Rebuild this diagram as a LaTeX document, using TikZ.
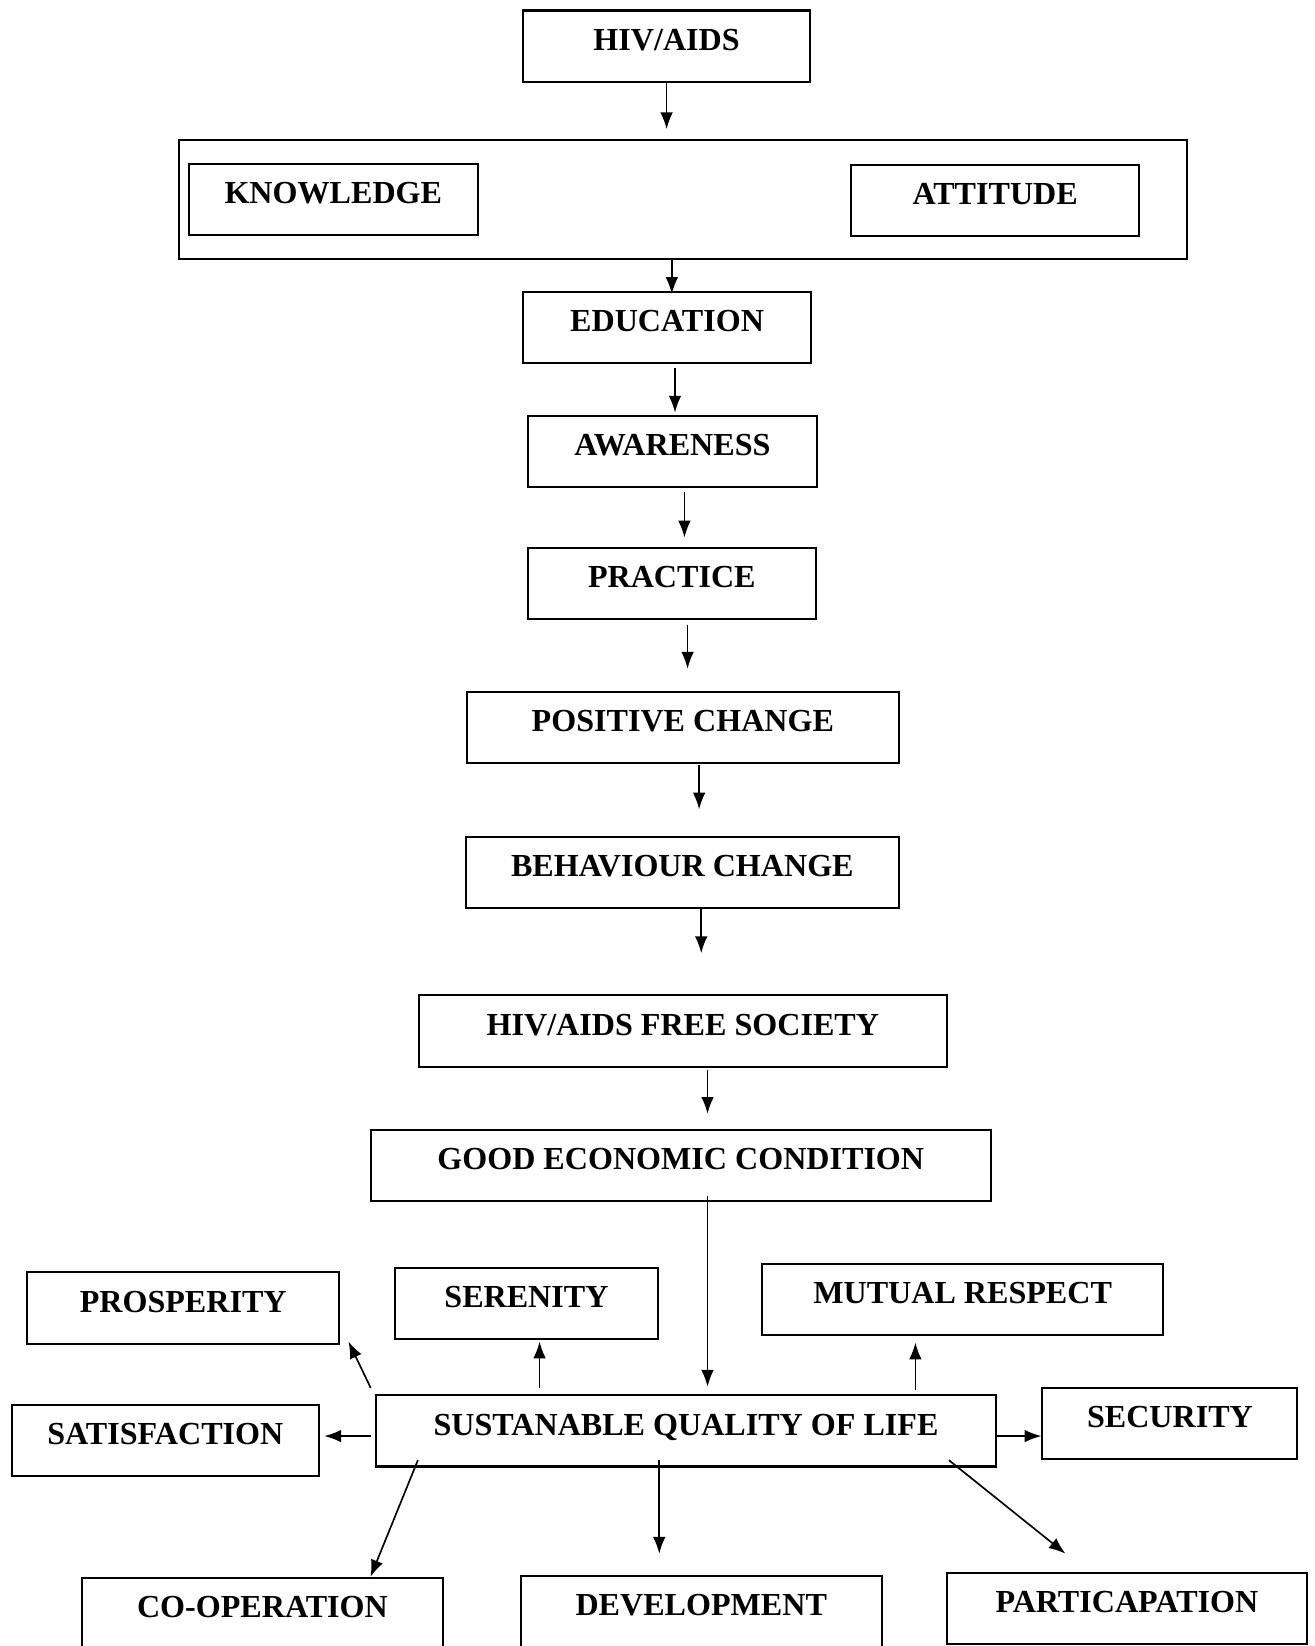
\documentclass[tikz,border=0pt]{standalone}
\usepackage{fontspec}
\setmainfont{Liberation Serif}
\usetikzlibrary{arrows.meta}

\begin{document}
\begin{tikzpicture}[x=0.02cm, y=-0.02cm,
		box/.style = {draw, line width=1.1pt, inner xsep=0pt, inner ysep=0pt, text height=0.76cm, text depth=0.6cm, font=\bfseries\fontsize{17.4}{20}\selectfont},
		arr/.style = {line width=0.9pt, -{Latex[length=3.2mm, width=2.4mm]}}]
		\useasboundingbox (0,0) rectangle (1252,1568);
		% main chain
		\node[box, minimum width=5.48cm] (hiv) at (635,44) {HIV/AIDS};
		\node[box, minimum width=19.22cm, minimum height=2.28cm] (core) at (650.5,190) {};
		\node[box, minimum width=5.5cm] (know) at (317.5,190) {KNOWLEDGE};
		\node[box, minimum width=5.48cm] (att) at (948,191) {ATTITUDE};
		\node[box, minimum width=5.5cm] (edu) at (635.5,312) {EDUCATION};
		\node[box, minimum width=5.5cm] (aware) at (640.5,430) {AWARENESS};
		\node[box, minimum width=5.48cm] (prac) at (640,556) {PRACTICE};
		\node[box, minimum width=8.22cm] (pos) at (650.5,693) {POSITIVE CHANGE};
		\node[box, minimum width=8.24cm] (beh) at (650,831) {BEHAVIOUR CHANGE};
		\node[box, minimum width=10.06cm] (free) at (650.5,982) {HIV/AIDS FREE SOCIETY};
		\node[box, minimum width=11.82cm] (econ) at (648.5,1110) {GOOD ECONOMIC CONDITION};
		% outcomes
		\node[box, minimum width=11.82cm] (sql) at (653.5,1363) {SUSTANABLE QUALITY OF LIFE};
		\node[box, minimum width=5.94cm] (pros) at (174.5,1246) {PROSPERITY};
		\node[box, minimum width=5.02cm] (ser) at (501.5,1242) {SERENITY};
		\node[box, minimum width=7.64cm] (mut) at (917,1238) {MUTUAL RESPECT};
		\node[box, minimum width=5.86cm] (sat) at (157.5,1372) {SATISFACTION};
		\node[box, minimum width=4.86cm] (sec) at (1114.5,1356) {SECURITY};
		\node[box, minimum width=6.88cm] (coop) at (250,1537) {CO-OPERATION};
		\node[box, minimum width=6.88cm] (dev) at (668,1535) {DEVELOPMENT};
		\node[box, minimum width=6.86cm] (part) at (1073.5,1532) {PARTICAPATION};
		% arrows down the chain
		\draw[arr, shorten >=0.18cm] (hiv.south -| 635,0) -- (core.north -| 635,0);
		\draw[arr, shorten >=-0.06cm] (core.south -| 640,0) -- (edu.north -| 640,0);
		\draw[arr, shorten <=0.08cm, shorten >=0.04cm] (edu.south -| 643,0) -- (aware.north -| 643,0);
		\draw[arr, shorten <=0.08cm, shorten >=0.18cm] (aware.south -| 652,0) -- (prac.north -| 652,0);
		\draw[arr, shorten <=0.08cm, shorten >=0.42cm] (prac.south -| 655,0) -- (pos.north -| 655,0);
		\draw[arr, shorten <=0.02cm, shorten >=0.5cm] (pos.south -| 666,0) -- (beh.north -| 666,0);
		\draw[arr, shorten >=0.78cm] (beh.south -| 668,0) -- (free.north -| 668,0);
		\draw[arr, shorten <=0.04cm, shorten >=0.28cm] (free.south -| 674,0) -- (econ.north -| 674,0);
		\draw[arr, shorten <=-0.12cm, shorten >=0.14cm] (econ.south -| 674,0) -- (sql.north -| 674,0);
		% arrows out of sql
		\draw[arr, shorten <=0.12cm, shorten >=0.02cm] (sql.north -| 514,0) -- (ser.south -| 514,0);
		\draw[arr, shorten <=0.08cm, shorten >=0.12cm] (sql.north -| 872,0) -- (mut.south -| 872,0);
		\draw[arr] ([xshift=-0.08cm, yshift=0.12cm]sql.north west) -- ([xshift=0.16cm, yshift=0.06cm]pros.south east);
		\draw[arr, shorten <=0.08cm, shorten >=0.08cm] (sql.west |- 0,1368) -- (sat.east |- 0,1368);
		\draw[arr] (sql.east |- 0,1368) -- (sec.west |- 0,1368);
		\draw[arr] ([xshift=0.82cm, yshift=0.14cm]sql.south west) -- ([xshift=2.06cm]coop.north);
		\draw[arr, shorten <=-0.14cm, shorten >=0.4cm] (sql.south -| 628,0) -- (dev.north -| 628,0);
		\draw[arr] ([xshift=-0.92cm, yshift=0.14cm]sql.south east) -- ([xshift=-1.17cm, yshift=0.34cm]part.north);
	\end{tikzpicture}
\end{document}
